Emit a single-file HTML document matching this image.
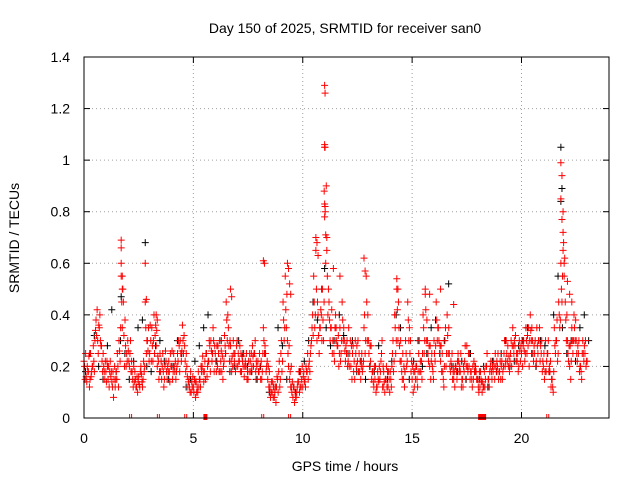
<!DOCTYPE html>
<html><head><meta charset="utf-8"><style>
body{margin:0;background:#fff}
svg{display:block;font-family:"Liberation Sans",sans-serif}
</style></head><body>
<svg id="chart" width="640" height="480" viewBox="0 0 640 480">
<text x="345" y="33" font-size="14" text-anchor="middle">Day 150 of 2025, SRMTID for receiver san0</text>
<text x="345" y="471" font-size="14" text-anchor="middle">GPS time / hours</text>
<text x="0" y="0" font-size="14" text-anchor="middle" transform="translate(19,238) rotate(-90)">SRMTID / TECUs</text>
<g id="grid"></g>
<g id="ticks"></g>
<g id="black"></g>
<g id="red"></g>
<g id="bottom"></g>
<rect x="84" y="57" width="525" height="361" fill="none" stroke="#000" stroke-width="1"/>
</svg>
<script>
const xTicks=[0,5,10,15,20];
const yTicks=[0,0.2,0.4,0.6,0.8,1,1.2,1.4];
const yTickLabels=["0","0.2","0.4","0.6","0.8","1","1.2","1.4"];
const redA=[.22,.16,.18,.25,.20,.30,.42,.35,.28,.20,.18,.15,.22,.12,.20,.15,.30,.55,.45,.28,.30,.25,.18,.14,.12,.16,.20,.15,.45,.30,.25,.35,.40,.28,.22,.18,.25,.20,.15,.18,.20,.25,.15,.22,.30,.36,.28,.20,.15,.10,.12,.08,.10,.15,.20,.18,.25,.22,.30,.35,.25,.20,.30,.18,.22,.45,.35,.28,.20,.25,.30,.22,.18,.25,.20,.15,.22,.28,.25,.20,.18,.22,.35,.25,.15,.12,.10,.08,.12,.18,.25,.45,.55,.30,.15,.10,.12,.08,.14,.18,.12,.15,.18,.22,.30,.55,.65,.40,.35,.50,1.05,.70,.45,.35,.30,.40,.28,.35,.45,.30,.25,.35,.20,.28,.30,.22,.18,.25,.35,.55,.30,.22,.18,.15,.12,.20,.25,.18,.15,.12,.18,.25,.40,.50,.35,.22,.15,.30,.45,.25,.15,.12,.20,.25,.18,.40,.48,.30,.20,.25,.30,.45,.35,.22,.18,.30,.40,.25,.20,.15,.20,.25,.18,.15,.22,.28,.20,.18,.15,.20,.15,.12,.10,.18,.20,.15,.22,.18,.25,.20,.18,.22,.25,.30,.20,.25,.35,.28,.22,.30,.25,.30,.35,.28,.40,.30,.25,.35,.30,.25,.20,.30,.25,.18,.15,.35,.30,.45,.60,.80,.45,.30,.20,.35,.40,.30,.25,.20,.30,.25,.22];
const redB=[.15,.20,.12,.18,.22,.38,.25,.30,.18,.15,.22,.12,.18,.08,.15,.20,.22,.35,.20,.25,.22,.18,.12,.15,.10,.12,.14,.18,.25,.35,.30,.22,.32,.20,.18,.15,.12,.22,.18,.25,.15,.18,.20,.28,.22,.25,.18,.12,.10,.12,.15,.10,.12,.20,.18,.15,.20,.28,.22,.18,.18,.25,.22,.15,.28,.30,.22,.18,.25,.20,.25,.18,.22,.20,.15,.18,.25,.20,.18,.22,.20,.18,.25,.20,.12,.10,.08,.12,.15,.12,.18,.30,.35,.20,.12,.08,.10,.12,.10,.15,.18,.20,.15,.25,.40,.35,.30,.25,.40,.30,.60,.40,.30,.25,.22,.30,.20,.25,.30,.22,.20,.25,.15,.22,.20,.18,.15,.20,.25,.30,.20,.15,.12,.10,.15,.18,.12,.10,.12,.15,.12,.18,.25,.30,.22,.15,.12,.20,.30,.18,.10,.15,.12,.18,.15,.25,.30,.22,.15,.18,.22,.30,.25,.18,.12,.20,.25,.18,.15,.12,.15,.18,.12,.20,.15,.18,.15,.12,.18,.15,.10,.15,.12,.15,.12,.18,.15,.20,.18,.15,.15,.18,.20,.22,.18,.20,.25,.22,.18,.22,.20,.22,.25,.20,.30,.22,.20,.25,.22,.18,.15,.22,.18,.12,.10,.25,.22,.35,.45,.55,.30,.22,.15,.25,.30,.22,.18,.15,.22,.20];
const redC=[.20,.14,.24,.16,.28,.34,.30,.40,.22,.18,.14,.20,.16,.18,.12,.25,.26,.45,.32,.20,.26,.30,.15,.18,.16,.13,.17,.22,.35,.26,.36,.28,.25,.34,.15,.22,.18,.26,.20,.14,.26,.20,.18,.30,.25,.30,.22,.16,.12,.14,.10,.14,.18,.12,.24,.22,.16,.30,.26,.30,.22,.28,.18,.24,.32,.38,.28,.22,.30,.18,.20,.28,.24,.16,.25,.22,.18,.24,.30,.15,.25,.15,.30,.18,.20,.08,.14,.10,.16,.22,.30,.38,.42,.25,.18,.14,.06,.10,.18,.12,.16,.12,.25,.18,.35,.45,.50,.32,.42,.38,.80,.55,.38,.42,.25,.35,.32,.22,.38,.26,.30,.20,.28,.18,.25,.30,.22,.18,.40,.45,.25,.28,.14,.20,.18,.15,.30,.14,.20,.18,.15,.30,.35,.42,.28,.18,.20,.25,.38,.30,.20,.18,.15,.30,.22,.35,.42,.25,.28,.20,.25,.38,.30,.28,.15,.35,.32,.20,.25,.18,.18,.22,.25,.12,.28,.20,.25,.15,.22,.18,.12,.18,.14,.12,.25,.12,.18,.22,.20,.25,.22,.15,.30,.25,.24,.30,.28,.32,.25,.26,.30,.26,.30,.35,.34,.25,.30,.28,.35,.30,.25,.18,.30,.22,.12,.28,.38,.40,.50,.68,.38,.25,.28,.30,.35,.25,.30,.18,.25,.30];
const redD=[.25,.18,.15,.20,.18,.32,.36,.28,.25,.22,.20,.18,.14,.15,.18,.12,.35,.50,.38,.22,.20,.22,.20,.12,.14,.18,.12,.20,.30,.22,.22,.30,.36,.24,.25,.20,.15,.18,.22,.20,.18,.22,.25,.18,.26,.32,.25,.14,.18,.16,.14,.12,.15,.18,.14,.25,.22,.18,.25,.28,.28,.18,.26,.20,.25,.40,.30,.24,.22,.28,.22,.25,.20,.22,.18,.25,.20,.25,.22,.18,.15,.25,.28,.22,.18,.14,.12,.06,.10,.15,.22,.35,.48,.28,.20,.12,.08,.14,.12,.20,.14,.18,.20,.28,.32,.40,.45,.35,.30,.45,.90,.50,.35,.30,.35,.28,.25,.30,.35,.28,.22,.30,.25,.15,.28,.25,.20,.22,.30,.40,.28,.18,.20,.12,.14,.22,.20,.15,.18,.10,.20,.22,.30,.45,.30,.25,.18,.22,.35,.22,.18,.20,.18,.22,.25,.30,.38,.28,.22,.15,.28,.35,.28,.25,.20,.25,.35,.22,.18,.20,.22,.20,.15,.18,.20,.25,.18,.20,.20,.15,.18,.14,.12,.20,.15,.20,.20,.15,.22,.18,.20,.20,.22,.28,.22,.28,.30,.25,.20,.28,.28,.25,.32,.30,.35,.28,.22,.30,.28,.22,.18,.25,.20,.15,.18,.30,.25,.38,.55,.62,.40,.28,.22,.30,.38,.28,.20,.25,.28,.22];
const spikeT=[1.7,1.7,1.7,1.75,1.75,2.8,2.85,3.3,3.35,6.7,6.75,8.2,8.25,9.3,9.35,9.4,9.45,10.6,10.65,10.7,11.0,11.02,11.0,11.02,10.98,11.0,11.02,11.0,11.05,11.1,11.4,11.7,12.8,12.85,14.3,14.35,15.6,15.8,16.3,16.9,21.8,21.85,21.8,21.85,21.9,21.9,21.95,22.1,22.2,22.3];
const spikeV=[.69,.66,.60,.55,.50,.60,.46,.40,.38,.50,.47,.61,.60,.60,.58,.52,.48,.70,.68,.63,1.29,1.26,1.06,1.05,.88,.83,.82,.78,.71,.65,.58,.55,.62,.57,.54,.50,.50,.48,.50,.44,.99,.94,.85,.77,.72,.65,.60,.53,.48,.45];
const blackVals=[.18,.25,.32,.20,.15,.28,.42,.18,.30,.25,.15,.22,.35,.38,.20,.18,.28,.30,.22,.15,.20,.30,.25,.12,.15,.22,.28,.35,.40,.25,.22,.30,.25,.18,.20,.30,.25,.20,.18,.15,.20,.25,.10,.12,.35,.28,.15,.12,.10,.18,.22,.30,.45,.38,.50,.35,.28,.30,.40,.32,.25,.30,.18,.22,.15,.20,.18,.28,.12,.15,.22,.40,.35,.18,.15,.22,.30,.20,.25,.35,.38,.25,.30,.52,.20,.18,.22,.15,.25,.18,.15,.20,.12,.22,.18,.25,.30,.20,.22,.28,.30,.35,.25,.20,.30,.28,.18,.40,.55,.35,.25,.30,.22,.35,.40,.30];
const blackSpikeT=[21.8,21.85,21.8,2.8,1.7,11.0];
const blackSpikeV=[1.05,.89,.84,.68,.47,.58];
const zeroT=[2.13,3.4,4.65,8.17,9.4,21.2];
const zeroBoxT=[5.55,18.2];

const X=t=>84+t*(525/24);
const Y=v=>418-v*(361/1.4);
const NS="http://www.w3.org/2000/svg";
function mk(tag,parent,attrs){const e=document.createElementNS(NS,tag);for(const k in attrs)e.setAttribute(k,attrs[k]);parent.appendChild(e);return e;}
const grid=document.getElementById('grid'),ticks=document.getElementById('ticks');
xTicks.forEach(t=>{
  if(t>0){const g=mk('line',grid,{x1:X(t),x2:X(t),y1:57,y2:418,stroke:'#a0a0a0','stroke-dasharray':'1,3'});
  
  }
  mk('line',ticks,{x1:X(t),x2:X(t),y1:418,y2:412,stroke:'#000'});
  mk('line',ticks,{x1:X(t),x2:X(t),y1:57,y2:63,stroke:'#000'});
  const l=mk('text',ticks,{x:X(t),y:443,'font-size':14,'text-anchor':'middle'});l.textContent=t;
  
  
});
yTicks.forEach((v,i)=>{
  if(v>0&&v<1.4){const g=mk('line',grid,{x1:84,x2:609,y1:Y(v),y2:Y(v),stroke:'#a0a0a0','stroke-dasharray':'1,3'});
  
  }
  mk('line',ticks,{x1:84,x2:90,y1:Y(v),y2:Y(v),stroke:'#000'});
  mk('line',ticks,{x1:609,x2:603,y1:Y(v),y2:Y(v),stroke:'#000'});
  const l=mk('text',ticks,{x:70,y:Y(v)+5,'font-size':14,'text-anchor':'end'});l.textContent=yTickLabels[i];
  
  
});
function plus(g,t,v,col){
  const x=X(t),y=Y(v);
  const p=mk('path',g,{d:`M${x-3.5},${y}h7M${x},${y-3.5}v7`,stroke:col,'stroke-width':1,fill:'none'});
  
  
}
const bk=document.getElementById('black'),rd=document.getElementById('red');
blackVals.forEach((v,i)=>plus(bk,i*0.2+0.07,v,'#000'));
blackSpikeT.forEach((t,i)=>plus(bk,t,blackSpikeV[i],'#000'));
redA.forEach((v,i)=>plus(rd,i*0.1,v,'#f00'));
redB.forEach((v,i)=>plus(rd,i*0.1+0.05,v,'#f00'));
redC.forEach((v,i)=>plus(rd,i*0.1+0.025,v,'#f00'));
redD.forEach((v,i)=>plus(rd,i*0.1+0.075,v,'#f00'));
spikeT.forEach((t,i)=>plus(rd,t,spikeV[i],'#f00'));
const bt=document.getElementById('bottom');
zeroT.forEach(t=>{
  const p=mk('path',bt,{d:`M${X(t)-1},418v-4M${X(t)+1},418v-4`,stroke:'#f00','stroke-width':1});
  
  
});
zeroBoxT.forEach((t,i)=>{
  const w=i===1?8:4;
  const r=mk('rect',bt,{x:X(t)-w/2,y:414,width:w,height:6,fill:'#f00'});
  
  
});
</script>
</body></html>
